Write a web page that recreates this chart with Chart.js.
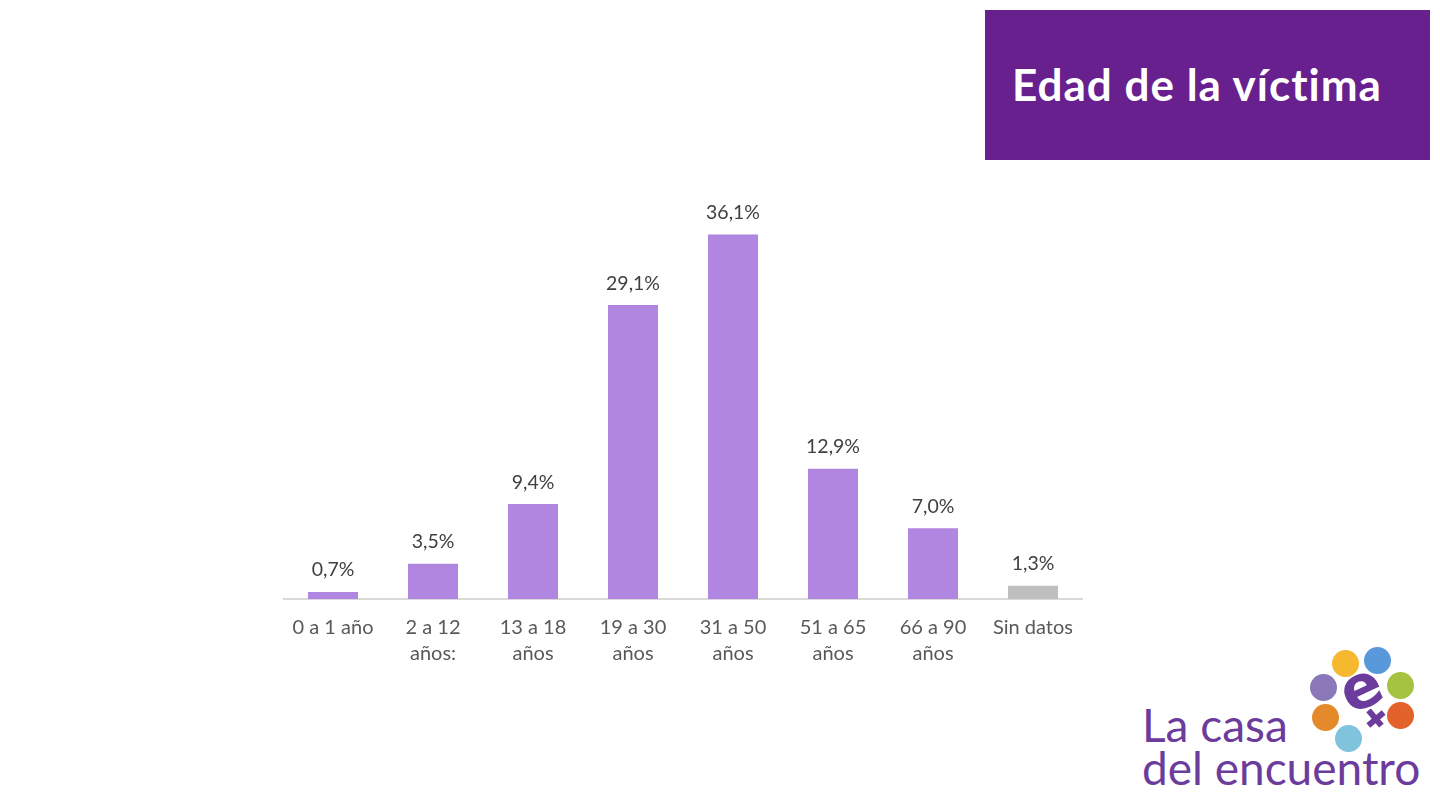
<!DOCTYPE html>
<html>
<head>
<meta charset="utf-8">
<script src="https://cdn.jsdelivr.net/npm/chart.js@4/dist/chart.umd.min.js"></script>
<style>
  body { margin: 0; width: 1440px; height: 810px; background: #fff; position: relative; overflow: hidden; font-family: Lato, sans-serif; }
  #titleBox { position: absolute; left: 985px; top: 10px; width: 445px; height: 150px; background: #68208f; }
  #titleBox span { position: absolute; left: 27px; top: 48px; color: #fff; font: bold 44px Lato, sans-serif; letter-spacing: 1px; white-space: nowrap; }
  #wrap { position: absolute; left: 283px; top: 165px; width: 800px; height: 510px; }
  .dot { position: absolute; width: 27px; height: 27px; border-radius: 50%; }
  .logoTxt { position: absolute; color: #6c3c9c; font: 46px Lato, sans-serif; white-space: nowrap; }
</style>
</head>
<body>
<div id="titleBox"><span>Edad de la víctima</span></div>
<div id="wrap"><canvas id="chart-edad"></canvas></div>

<div class="dot" style="left:1332px;top:650px;background:#f5b82e"></div>
<div class="dot" style="left:1364px;top:647px;background:#5a98dc"></div>
<div class="dot" style="left:1387px;top:672px;background:#a5c240"></div>
<div class="dot" style="left:1310px;top:674px;background:#8b78b8"></div>
<div class="dot" style="left:1312px;top:704px;background:#e58a2a"></div>
<div class="dot" style="left:1387px;top:702px;background:#e3612b"></div>
<div class="dot" style="left:1335px;top:725px;background:#7fc3dc"></div>
<div style="position:absolute;left:1340px;top:652px;color:#6c3c9c;font:bold 60px 'DejaVu Sans',sans-serif;transform:rotate(-25deg)">e</div>
<div style="position:absolute;left:1372px;top:708px;width:6px;height:20px;background:#6c3c9c;transform:rotate(-40deg)"></div>
<div style="position:absolute;left:1366px;top:716px;width:20px;height:6px;background:#6c3c9c;transform:rotate(-40deg)"></div>
<div class="logoTxt" style="left:1142px;top:697px">La casa</div>
<div class="logoTxt" style="left:1142px;top:740px">del encuentro</div>

<script>
var categories = [
    '0 a 1 año',
    ['2 a 12', 'años:'],
    ['13 a 18', 'años'],
    ['19 a 30', 'años'],
    ['31 a 50', 'años'],
    ['51 a 65', 'años'],
    ['66 a 90', 'años'],
    'Sin datos'
];
var porcentajes = [0.7, 3.5, 9.4, 29.1, 36.1, 12.9, 7.0, 1.3];
var colores = ['#b086e0', '#b086e0', '#b086e0', '#b086e0', '#b086e0', '#b086e0', '#b086e0', '#bfbfbf'];

var etiquetas = {
    id: 'etiquetas',
    afterDatasetsDraw: function(chart) {
        var ctx = chart.ctx;
        var meta = chart.getDatasetMeta(0);
        ctx.save();
        ctx.fillStyle = '#404040';
        ctx.font = '19.5px Lato, sans-serif';
        ctx.textAlign = 'center';
        ctx.textBaseline = 'bottom';
        for (var i = 0; i < meta.data.length; i++) {
            var bar = meta.data[i];
            ctx.fillText(porcentajes[i].toFixed(1).replace('.', ',') + '%', bar.x, bar.y - 12);
        }
        ctx.restore();
    }
};

new Chart(document.getElementById('chart-edad'), {
    type: 'bar',
    data: {
        labels: categories,
        datasets: [{
            data: porcentajes,
            backgroundColor: colores,
            barPercentage: 0.5,
            categoryPercentage: 1
        }]
    },
    options: {
        responsive: true,
        maintainAspectRatio: false,
        animation: false,
        layout: { padding: { top: 30 } },
        plugins: { legend: { display: false }, tooltip: { enabled: false } },
        scales: {
            y: { display: false, min: 0, max: 40 },
            x: {
                grid: { display: false },
                border: { color: '#d9d9d9', width: 2 },
                ticks: {
                    color: '#595959',
                    padding: 8,
                    maxRotation: 0,
                    font: { family: 'Lato', size: 20, lineHeight: 1.3 }
                }
            }
        }
    },
    plugins: [etiquetas]
});
</script>
</body>
</html>
